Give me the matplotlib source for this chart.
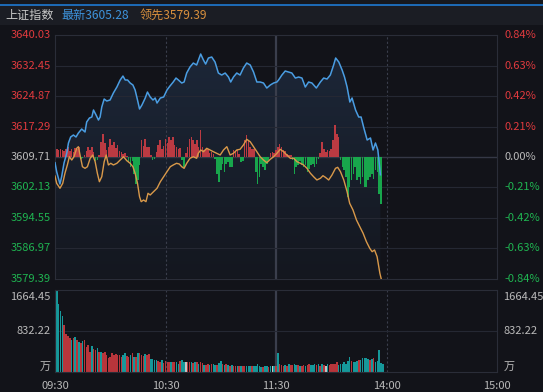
import numpy as np
import matplotlib.pyplot as plt
from matplotlib import transforms
from matplotlib.colors import LinearSegmentedColormap
from matplotlib.patches import Polygon, Rectangle
from matplotlib.lines import Line2D

plt.rcParams['font.family'] = ['Noto Sans CJK SC', 'DejaVu Sans']

# Header
index_name = "上证指数"
last_price = 3605.28
lead_last = 3579.39
prev_close = 3609.71

# Axis ticks
price_ticks = [3640.03, 3632.45, 3624.87, 3617.29, 3609.71, 3602.13, 3594.55, 3586.97, 3579.39]
vol_ticks = [1664.45, 832.22]
time_ticks = [0, 60, 120, 180, 240]
time_labels = ["09:30", "10:30", "11:30", "14:00", "15:00"]

# Index price (minutes since 09:30, trading minutes only)
price_t = [0, 0.9, 2.7, 3.6, 4.9, 6.4, 7.3, 8.5, 10.0, 11.4, 12.7, 14.5, 16.3, 17.2, 18.7,
           20.0, 20.9, 22.3, 23.6, 24.5, 25.4, 26.7, 28.1, 29.9, 31.7, 33.6, 35.4, 36.9, 38.1,
           39.4, 40.8, 42.3, 43.5, 44.8, 45.9, 47.2, 49.0, 50.2, 51.7, 53.2, 54.4, 55.4, 57.2,
           59.0, 60.8, 62.4, 64.2, 65.7, 67.0, 68.8, 70.1, 71.5, 73.3, 75.1, 76.9, 79.1, 80.6,
           81.8, 83.3, 85.1, 86.9, 88.7, 90.5, 92.4, 94.2, 95.4, 96.9, 98.7, 100.5, 102.3,
           104.1, 106.0, 107.8, 109.6, 111.4, 113.2, 115.0, 116.9, 118.7, 120.5, 121.4, 123.2,
           125.0, 126.8, 128.6, 130.5, 132.3, 134.1, 135.9, 137.7, 139.5, 141.9, 144.1, 145.9,
           147.7, 149.5, 151.3, 152.4, 154.1, 155.9, 157.2, 158.6, 160.1, 161.3, 163.2, 164.9,
           166.2, 167.7, 169.5, 171.3, 172.7, 174.0, 175.3, 176.7]
price = [3608.29, 3606.05, 3602.98, 3604.80, 3608.21, 3610.71, 3613.20, 3614.70, 3615.19,
         3614.70, 3615.69, 3616.69, 3615.94, 3618.44, 3619.43, 3619.68, 3621.43, 3620.18,
         3618.93, 3619.68, 3622.18, 3624.17, 3623.67, 3623.92, 3625.67, 3627.16, 3628.91,
         3629.90, 3628.91, 3628.91, 3628.16, 3627.66, 3626.41, 3623.92, 3621.68, 3622.67,
         3624.42, 3625.91, 3624.67, 3623.92, 3624.42, 3623.17, 3624.42, 3624.67, 3626.41,
         3627.40, 3628.41, 3629.40, 3628.91, 3628.16, 3628.41, 3630.65, 3632.15, 3633.14,
         3632.65, 3635.39, 3633.89, 3632.89, 3634.39, 3634.64, 3633.39, 3630.65, 3630.15,
         3630.65, 3629.65, 3628.41, 3629.65, 3630.65, 3630.15, 3631.90, 3633.14, 3632.65,
         3630.90, 3628.41, 3628.41, 3628.16, 3626.91, 3627.66, 3628.16, 3628.41, 3628.91,
         3630.15, 3631.15, 3630.90, 3630.65, 3629.40, 3629.65, 3629.40, 3627.16, 3628.41,
         3628.16, 3626.91, 3628.41, 3629.40, 3629.15, 3630.15, 3632.65, 3634.39, 3633.39,
         3631.40, 3629.65, 3627.16, 3623.42, 3624.42, 3621.43, 3619.68, 3619.68, 3616.94,
         3613.95, 3614.45, 3611.46, 3613.20, 3611.46, 3605.28]

# Leading index
lead_t = [0, 0.9, 2.7, 4.2, 5.4, 6.7, 7.8, 9.1, 10.3, 11.8, 12.7, 13.6, 14.9, 16.3, 17.6,
          19.1, 20.5, 21.8, 23.0, 24.1, 25.4, 26.7, 27.8, 29.0, 30.3, 31.7, 33.6, 35.4, 37.2,
          39.0, 40.8, 42.3, 43.5, 44.8, 45.9, 46.8, 48.1, 49.4, 50.5, 51.7, 53.5, 55.4, 57.2,
          59.0, 60.8, 62.6, 64.2, 66.0, 67.5, 68.8, 70.1, 71.5, 73.3, 75.1, 76.9, 77.8, 79.1,
          80.6, 82.4, 84.2, 86.0, 87.8, 89.7, 91.5, 93.3, 95.1, 96.9, 98.7, 100.5, 102.3,
          104.1, 106.0, 107.8, 109.6, 111.4, 113.2, 115.0, 116.9, 118.7, 120.5, 122.3, 124.1,
          125.9, 127.8, 129.6, 131.4, 133.2, 135.0, 136.8, 138.7, 140.4, 142.2, 144.1, 145.5,
          146.8, 148.6, 150.4, 152.3, 153.5, 155.0, 156.8, 158.6, 160.0, 161.8, 163.7, 165.5,
          167.3, 169.1, 170.9, 172.2, 173.5, 174.9, 176.4, 177.1]
lead = [3604.97, 3603.15, 3601.91, 3603.15, 3605.65, 3607.72, 3609.78, 3608.96, 3609.78,
        3611.88, 3612.28, 3610.21, 3607.29, 3606.89, 3607.29, 3609.39, 3610.21, 3608.54,
        3605.65, 3603.55, 3604.80, 3608.54, 3610.21, 3607.72, 3608.14, 3607.72, 3608.14,
        3608.96, 3609.78, 3608.79, 3608.14, 3607.29, 3605.65, 3603.15, 3599.81, 3598.57,
        3598.99, 3598.57, 3600.66, 3600.24, 3601.06, 3601.91, 3603.55, 3604.80, 3606.05,
        3607.29, 3607.72, 3608.14, 3607.96, 3607.29, 3606.89, 3608.14, 3609.39, 3609.78,
        3609.39, 3610.63, 3611.46, 3611.03, 3611.88, 3611.46, 3611.03, 3610.63, 3610.21,
        3611.46, 3612.28, 3610.21, 3610.63, 3611.46, 3611.63, 3612.70, 3614.12, 3613.52,
        3612.28, 3611.03, 3609.78, 3608.96, 3608.29, 3609.14, 3609.78, 3610.63, 3611.63,
        3611.03, 3610.21, 3609.39, 3609.39, 3608.54, 3608.14, 3607.72, 3606.89, 3605.65,
        3604.80, 3603.98, 3604.40, 3605.05, 3604.65, 3603.98, 3605.22, 3606.89, 3607.14,
        3606.05, 3603.98, 3601.06, 3598.17, 3596.50, 3594.00, 3592.33, 3590.69, 3588.59,
        3586.95, 3586.10, 3586.53, 3584.85, 3580.72, 3579.39]

# Buy/sell strength bars, one per minute
strength = [7, 8, 7, 8, 7, 6, 8, 10, 6, 8,
            5, 9, 8, 10, -2, -1, 2, 6, 10, 7,
            10, 5, -4, -3, 2, 15, 23, 14, 7, 10,
            18, 12, 15, 9, 12, 6, 5, 3, 4, 1,
            -5, -10, -4, -17, -27, -23, -8, 17, 11, 18,
            10, 10, 2, -3, -2, 5, 12, 17, 8, 11,
            18, 14, 20, 17, 20, 12, 10, 8, 9, -3,
            -10, 4, 10, 18, 20, 17, 13, 17, 10, 27,
            10, 7, 8, 8, 4, 5, 3, -2, -17, -25,
            -13, -7, -15, -7, -5, -10, -10, 7, 6, 7,
            3, -5, -4, 17, 22, 17, 10, 8, 8, -15,
            -27, -20, -7, -10, -13, -7, -3, 4, 5, 4,
            7, 10, 13, 10, 7, 6, 3, 2, 2, -3,
            -17, -10, -8, -4, -8, -10, -8, -15, -12, -8,
            -7, -10, -7, -2, 4, 15, 8, 5, 7, 6,
            8, 17, 32, 23, 20, -3, -10, -13, -20, -40,
            -30, -23, -17, -10, -23, -20, -27, -20, -30, -30,
            -23, -20, -17, -22, -13, -15, -37, -47]

# Volume (万), one per minute
volume = [517, 1664, 1371, 1223, 1122, 941, 766, 739, 685, 652,
          699, 712, 652, 605, 585, 632, 652, 517, 551,
          417, 538, 470, 450, 484, 417, 417, 396, 417,
          349, 296, 316, 383, 349, 363, 349, 349, 316,
          349, 383, 336, 316, 349, 383, 316, 316, 383,
          383, 349, 329, 363, 349, 363, 269, 269, 249,
          249, 228, 215, 249, 181, 228, 202, 215, 202,
          202, 215, 202, 161, 228, 249, 202, 202, 202,
          202, 215, 181, 202, 202, 161, 202, 181, 148,
          148, 161, 148, 161, 161, 148, 148, 181, 228,
          161, 148, 161, 148, 134, 148, 134, 134, 134,
          121, 134, 121, 121, 121, 121, 134, 121, 134,
          121, 161, 121, 108, 108, 121, 134, 108, 121, 121, 121, 121,
          383, 161, 148, 134, 148, 134, 175, 148, 148,
          161, 148, 148, 134, 134, 148, 134, 148, 161,
          148, 148, 161, 148, 161, 134, 161, 148, 134,
          161, 148, 175, 161, 175, 202, 148, 161, 175,
          202, 175, 228, 316, 228, 202, 215, 228, 249,
          249, 282, 296, 282, 269, 249, 269, 282, 202,
          228, 450, 181, 161]
vol_dir = ("wggggrrrrg" "rgrgrgrrr" "rgrrgrgrr" "rrrrrrrrr" "ggrrgrgrg" "rrrgrrggg"
           "grrgrrrrg" "rrggrggwr" "rgrgrgrrg" "rrgrggrgg" "rgrgrgrrg" "rgrrgggrg"
           "ggggrggrgwgr"
           "grrrgrgrr" "ggrgrrgrr" "gggrgrgrw" "grrrrrggg" "ggggrgggr" "gggggrgrg" "gggg")

# Colors
bg = '#121319'
grid_c = '#252833'
sep_c = '#3a3e4c'
red = '#e03a3e'
green = '#1fb451'
grey = '#b9b9b9'
blue = '#4a9de2'
orange = '#d9994a'

W, H = 543, 392
fig = plt.figure(figsize=(W / 100, H / 100), dpi=100)
fig.patch.set_facecolor(bg)


def fx(px):
    return px / W


def fy(py):
    return 1 - py / H


# header band and top separator
fig.add_artist(Rectangle((0, fy(25)), 1, fy(5) - fy(25), transform=fig.transFigure,
                         facecolor='#1b1d24', edgecolor='none', zorder=0))
fig.add_artist(Rectangle((0, fy(4)), 1, fy(0) - fy(4), transform=fig.transFigure,
                         facecolor='#16181e', edgecolor='none', zorder=0))
fig.add_artist(Line2D([0, 1], [fy(4.5), fy(4.5)], transform=fig.transFigure,
                      color='#1f7ad3', lw=1.2))

fig.text(fx(5), fy(15), index_name, color='#c8c8c8', fontsize=8.7, va='center', ha='left')
fig.text(fx(61), fy(15), f"最新{last_price:.2f}", color='#3d93dc', fontsize=8.7,
         va='center', ha='left')
fig.text(fx(140), fy(15), f"领先{lead_last:.2f}", color='#d9903d', fontsize=8.7,
         va='center', ha='left')

ymin, ymax = price_ticks[-1], price_ticks[0]
ax = fig.add_axes([fx(55), fy(278.6), fx(497) - fx(55), fy(35.4) - fy(278.6)])
axv = fig.add_axes([fx(55), fy(372.3), fx(497) - fx(55), fy(289.5) - fy(372.3)])

for a in (ax, axv):
    a.set_facecolor(bg)
    a.set_xticks([])
    a.set_yticks([])
    for s in a.spines.values():
        s.set_color('#2a2d38')
        s.set_linewidth(0.8)
    a.axvline(60, color=sep_c, lw=0.8, ls=(0, (2, 2)), zorder=1)
    a.axvline(180, color=sep_c, lw=0.8, ls=(0, (2, 2)), zorder=1)
    a.axvline(120, color=sep_c, lw=1.6, zorder=1)

# price grid
for p in price_ticks[1:-1]:
    c = '#353846' if p == prev_close else grid_c
    ax.axhline(p, color=c, lw=1.0 if p == prev_close else 0.8, zorder=1)

# gradient fill under the price line
verts = [(price_t[0], ymin)] + list(zip(price_t, price)) + [(price_t[-1], ymin)]
poly = Polygon(verts, closed=True, facecolor='none', edgecolor='none')
ax.add_patch(poly)
cmap = LinearSegmentedColormap.from_list('fill', ['#14171f', '#1d283a'])
grad = np.linspace(1, 0, 256).reshape(-1, 1)
im = ax.imshow(grad, cmap=cmap, extent=[0, 240, ymin, ymax], aspect='auto',
               origin='upper', zorder=0.8)
im.set_clip_path(poly)

# strength bars
st = np.array(strength) * 0.25
mins = np.arange(len(st))
ax.bar(mins, st, bottom=prev_close, width=0.85,
       color=np.where(st >= 0, '#bb3a42', '#18a64c'), zorder=2)

ax.plot(lead_t, lead, color=orange, lw=1.0, zorder=3)
ax.plot(price_t, price, color=blue, lw=1.1, zorder=4)
ax.set_xlim(0, 240)
ax.set_ylim(ymin, ymax)

# price labels left / right
pt = transforms.blended_transform_factory(ax.transAxes, ax.transData)
for p in price_ticks:
    chg = (p - prev_close) / prev_close * 100
    if abs(chg) < 0.005:
        c = grey
    elif chg > 0:
        c = red
    else:
        c = green
    ax.text(-0.0095, p, f"{p:.2f}", transform=pt, color=c, fontsize=8,
            ha='right', va='center')
    ax.text(1.016, p, f"{chg:.2f}%", transform=pt, color=c, fontsize=8,
            ha='left', va='center')

# volume
vcolors = {'r': '#b8353b', 'g': '#16989a', 'w': '#c4c4c4'}
axv.bar(np.arange(len(volume)), volume, width=0.85,
        color=[vcolors[k] for k in vol_dir], zorder=2)
axv.axhline(vol_ticks[1], color=grid_c, lw=0.8, zorder=1)
axv.set_xlim(0, 240)
axv.set_ylim(0, vol_ticks[0])

vt = transforms.blended_transform_factory(axv.transAxes, axv.transData)
for x, ha in ((-0.0095, 'right'), (1.014, 'left')):
    axv.text(x, vol_ticks[0] - 160, f"{vol_ticks[0]:.2f}", transform=vt, color=grey,
             fontsize=8, ha=ha, va='center')
    axv.text(x, vol_ticks[1], f"{vol_ticks[1]:.2f}", transform=vt, color=grey,
             fontsize=8, ha=ha, va='center')
    axv.text(x, 115, "万", transform=vt, color=grey, fontsize=8, ha=ha, va='center')

tt = transforms.blended_transform_factory(axv.transData, fig.transFigure)
for t, lab in zip(time_ticks, time_labels):
    axv.text(t, fy(386), lab, transform=tt, color=grey, fontsize=8, ha='center', va='center')

fig.savefig('out.png', dpi=100, facecolor=bg)
